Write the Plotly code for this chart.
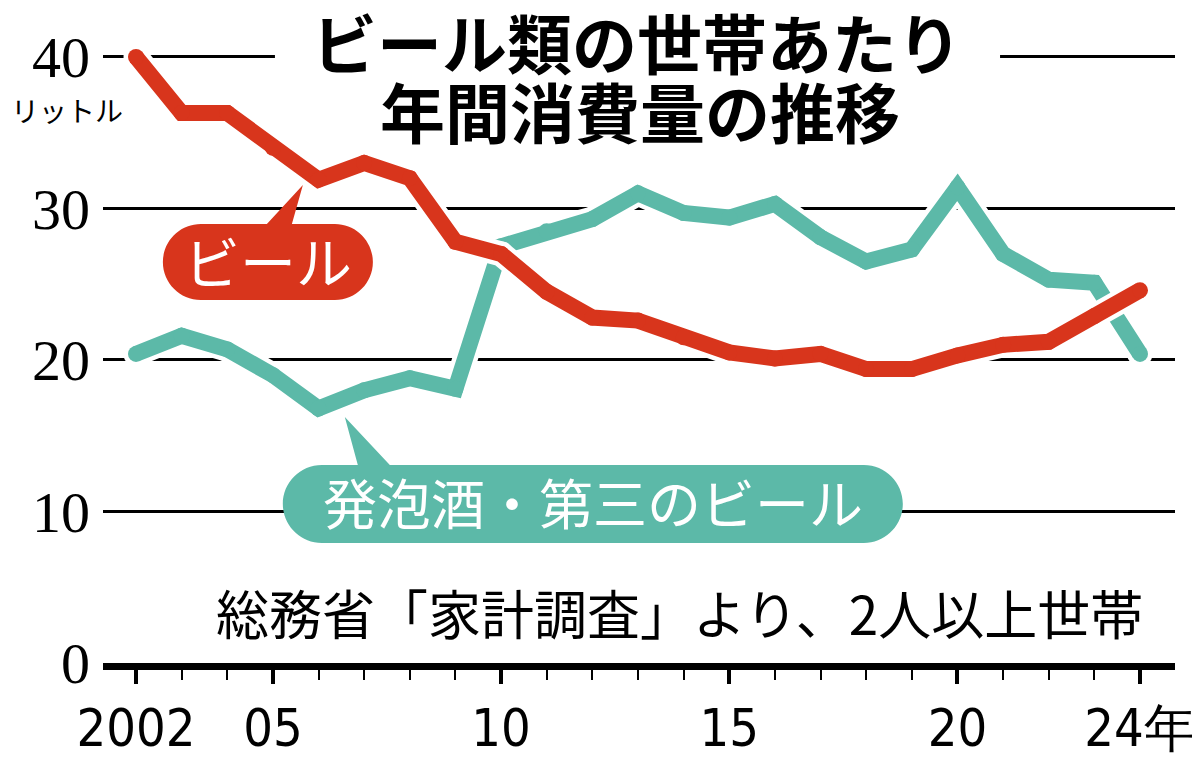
import plotly.graph_objects as go

years = list(range(2002, 2025))
beer = [40.0, 36.3, 36.3, 34.0, 31.9, 33.0, 32.0, 27.8, 27.0, 24.5, 22.8, 22.6,
        21.5, 20.5, 20.1, 20.4, 19.4, 19.4, 20.3, 21.0, 21.2, 22.9, 24.6]
happoshu = [20.4, 21.6, 20.7, 19.0, 16.8, 18.0, 18.8, 18.1, 27.5, 28.5, 29.3, 31.0,
            29.7, 29.4, 30.3, 28.1, 26.5, 27.3, 31.4, 27.0, 25.3, 25.1, 20.4]

x_tickvals = [2002, 2005, 2010, 2015, 2020, 2024]
x_ticktext = ["2002", "05", "10", "15", "20", "24年"]
y_tickvals = [0, 10, 20, 30, 40]

RED = "#d8351c"
GREEN = "#5cb9a8"
JP = "Noto Sans CJK JP"

fig = go.Figure()

# green first, red on top; each line gets a white casing
for vals, color in [(happoshu, GREEN), (beer, RED)]:
    fig.add_trace(go.Scatter(x=years, y=vals, mode="lines+markers",
                             line=dict(color="white", width=25),
                             marker=dict(color="white", size=25),
                             hoverinfo="skip", showlegend=False))
    fig.add_trace(go.Scatter(x=years, y=vals, mode="lines+markers",
                             line=dict(color=color, width=16),
                             marker=dict(color=color, size=16),
                             showlegend=False))


def bubble(cx, cy, w, h, tip, base, color):
    # stadium-shaped label with a pointer, in pixels around (cx, cy)
    r = h / 2
    k = 0.552 * r
    hw = w / 2
    p = (f"M {-hw + r},{r} L {base[0]},{r} L {tip[0]},{tip[1]} L {base[1]},{r} "
         f"L {hw - r},{r} C {hw - r + k},{r} {hw},{k} {hw},0 "
         f"C {hw},{-k} {hw - r + k},{-r} {hw - r},{-r} "
         f"L {-hw + r},{-r} C {-hw + r - k},{-r} {-hw},{-k} {-hw},0 "
         f"C {-hw},{k} {-hw + r - k},{r} {-hw + r},{r} Z")
    fig.add_shape(type="path", xref="x", yref="y", xsizemode="pixel", ysizemode="pixel",
                  xanchor=cx, yanchor=cy, path=p, fillcolor=color, line=dict(width=0),
                  layer="above")


# red label
bubble(2004.89, 26.47, 210, 76, tip=(35, 77), base=(-1, 24), color=RED)
fig.add_annotation(x=2004.89, y=26.47, text="ビール", showarrow=False,
                   font=dict(family=JP, size=56, color="white"), yshift=2)

# green label
bubble(2012.01, 10.5, 620, 78, tip=(-248, 87), base=(-235, -203), color=GREEN)
fig.add_annotation(x=2012.01, y=10.5, text="発泡酒・第三のビール", showarrow=False,
                   font=dict(family=JP, size=54, color="white"), yshift=2)

# title; a white strip breaks the 40 gridline behind the first line
fig.add_shape(type="rect", xref="paper", yref="y", x0=0.1604, x1=0.8368, y0=39.5, y1=40.5,
              fillcolor="white", line=dict(width=0), layer="above")
fig.add_annotation(xref="paper", yref="paper", x=0.498, y=0.9985, yanchor="middle",
                   text="<b>ビール類の世帯あたり</b>", showarrow=False,
                   font=dict(family=JP, size=65, color="black"))
fig.add_annotation(xref="paper", yref="paper", x=0.501, y=0.8876, yanchor="middle",
                   text="<b>年間消費量の推移</b>", showarrow=False,
                   font=dict(family=JP, size=65, color="black"))

# unit and source
fig.add_annotation(xref="paper", yref="paper", x=-0.034, y=0.888, xanchor="center",
                   yanchor="middle", text="リットル", showarrow=False,
                   font=dict(family=JP, size=28, color="black"))
fig.add_annotation(xref="paper", yref="paper", x=0.538, y=0.082, xanchor="center",
                   yanchor="middle", text="総務省「家計調査」より、2人以上世帯",
                   showarrow=False, font=dict(family=JP, size=53, color="black"))

# page has an 8px body margin, so the figure is 8px smaller than the window
fig.update_layout(
    width=1192, height=752,
    margin=dict(l=95, r=25, t=32, b=97),
    plot_bgcolor="white", paper_bgcolor="white",
    showlegend=False,
    xaxis=dict(range=[2001.277, 2024.767], tickmode="array", tickvals=x_tickvals,
               ticktext=x_ticktext, showgrid=False, zeroline=False, automargin=False,
               ticklabeloverflow="allow",
               showline=True, linecolor="black", linewidth=7,
               ticks="outside", ticklen=14, tickwidth=4, tickcolor="black",
               minor=dict(tickmode="linear", tick0=2002, dtick=1, ticks="outside",
                          ticklen=10, tickwidth=2, tickcolor="black"),
               tickfont=dict(family="DejaVu Sans Condensed", size=52, color="black")),
    yaxis=dict(range=[0, 41.12], tickmode="array", tickvals=y_tickvals, automargin=False,
               showgrid=True, gridcolor="black", gridwidth=3, zeroline=False,
               showline=False, ticks="", ticklabelstandoff=12,
               tickfont=dict(family="Liberation Serif", size=58, color="black")),
)

fig.write_html("out.html")
